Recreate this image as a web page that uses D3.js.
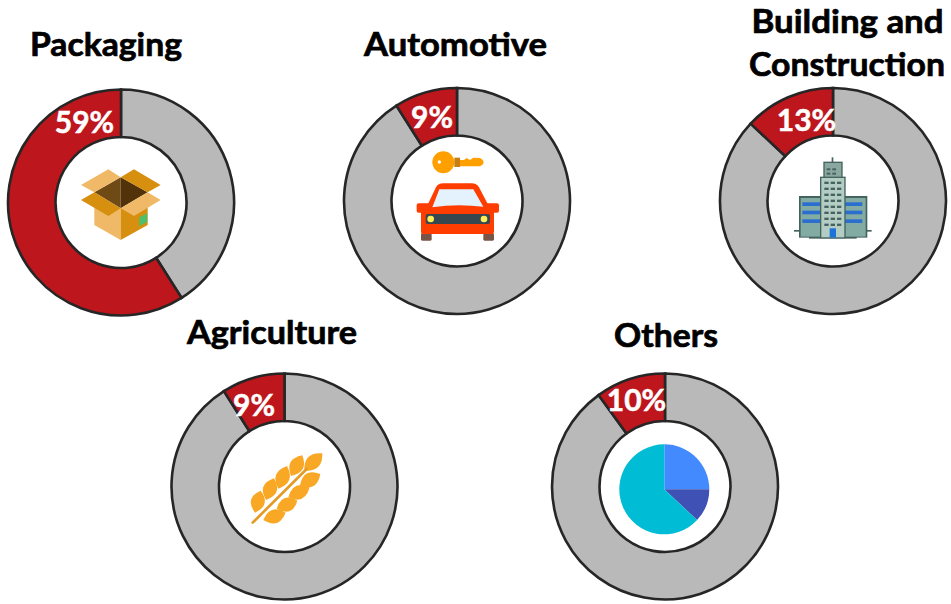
<!DOCTYPE html>
<html>
<head>
<meta charset="utf-8">
<script src="https://cdn.jsdelivr.net/npm/d3@7"></script>
<style>
  html, body { margin: 0; padding: 0; background: #fff; }
  text { font-family: Lato, "Open Sans", sans-serif; font-weight: 700; }
</style>
</head>
<body>
<div id="chart"></div>
<script>
// values
var sectors = ["Packaging", "Automotive", "Building and Construction", "Agriculture", "Others"];
var shares = [59, 9, 13, 9, 10];
var iconPieValues = [25, 12, 63];

// layout, one entry per sector
var centers = [[121, 202.5], [457, 201], [833, 201], [284.5, 486.5], [665, 486.5]];
var labelPos = [[84.5, 133], [432, 128], [806.5, 131], [254, 416], [636.5, 411]];
var titleLines = [
    [{t: "Packaging", x: 106, y: 56, w: 152}],
    [{t: "Automotive", x: 455.5, y: 56, w: 183}],
    [{t: "Building and", x: 847.5, y: 33, w: 192}, {t: "Construction", x: 847, y: 76, w: 196}],
    [{t: "Agriculture", x: 272, y: 344, w: 170}],
    [{t: "Others", x: 666, y: 347, w: 104}]
];

var width = 951, height = 604,
    outerR = 113, innerR = 65.5,
    grey = "#b9b9b9", red = "#be161d", edge = "#262626";

var svg = d3.select("#chart")
    .append("svg")
        .attr("width", width)
        .attr("height", height)
        .style("display", "block");

var pie = d3.pie().sort(null).value(function(d) { return d; });
var arc = d3.arc().innerRadius(innerR).outerRadius(outerR);

sectors.forEach(function(name, i) {
    var g = svg.append("g")
        .attr("transform", "translate(" + centers[i][0] + "," + centers[i][1] + ")");

    // grey rest first, red share ends at twelve o'clock
    g.selectAll("path")
        .data(pie([100 - shares[i], shares[i]]))
        .enter()
        .append("path")
            .attr("d", arc)
            .attr("fill", function(d, j) { return j == 0 ? grey : red; })
            .attr("stroke", edge)
            .attr("stroke-width", 2.6);

    svg.append("text")
        .attr("x", labelPos[i][0])
        .attr("y", labelPos[i][1])
        .attr("text-anchor", "middle")
        .attr("fill", "#fff")
        .attr("stroke", "#fff")
        .attr("stroke-width", 0.5)
        .attr("font-size", 30)
        .text(shares[i] + "%");

    titleLines[i].forEach(function(l) {
        svg.append("text")
            .attr("x", l.x)
            .attr("y", l.y)
            .attr("text-anchor", "middle")
            .attr("fill", "#000")
            .attr("stroke", "#000")
            .attr("stroke-width", 0.7)
            .attr("font-size", 33)
            .attr("textLength", l.w)
            .attr("lengthAdjust", "spacingAndGlyphs")
            .text(l.t);
    });
});

// icons are drawn at 3x inside their own group
function iconGroup(x, y) {
    return svg.append("g").attr("transform", "translate(" + x + "," + y + ") scale(0.3333)");
}
function poly(g, pts, fill) {
    g.append("polygon").attr("points", pts).attr("fill", fill);
}
function box(g, x, y, w, h, fill, r) {
    return g.append("rect").attr("x", x).attr("y", y).attr("width", w).attr("height", h)
        .attr("rx", r || 0).attr("fill", fill);
}

// box
var ib = iconGroup(0, 20);
poly(ib, "283,540 362,565 362,660 283,615", "#f0b968");
poly(ib, "443,540 362,565 362,660 443,615", "#d68f0e");
poly(ib, "418,592 442,580 442,606 418,618", "#4fc06a");
poly(ib, "283,517 362,472 362,565", "#6f4a14");
poly(ib, "443,517 362,472 362,565", "#523208");
poly(ib, "243,495 325,448 362,472 283,517", "#f0b968");
poly(ib, "362,472 402,448 482,495 443,517", "#d68f0e");
poly(ib, "283,517 362,565 325,588 243,540", "#d68f0e");
poly(ib, "443,517 482,540 402,588 362,565", "#f0b968");

// key and car
var ic = iconGroup(340, 80);
ic.append("circle").attr("cx", 310).attr("cy", 247).attr("r", 33).attr("fill", "#ffa000");
ic.append("circle").attr("cx", 298).attr("cy", 246).attr("r", 5).attr("fill", "#fff");
ic.append("path").attr("d", "M345,240H372L380,234L390,240L400,233L420,234Q431,240 431,247Q431,254 420,259H345Z").attr("fill", "#ffa000");
box(ic, 343, 233, 17, 28, "#c77f10");
box(ic, 243, 460, 32, 22, "#795548", 4);
box(ic, 430, 460, 32, 22, "#795548", 4);
ic.append("path").attr("d", "M258,385L288,322Q294,310 310,310H395Q410,310 417,322L450,385Z").attr("fill", "#ff3d00");
box(ic, 230, 370, 247, 28, "#ff3d00", 6);
box(ic, 243, 380, 219, 82, "#ff3d00", 6);
ic.append("path").attr("d", "M277,382L298,328H400L430,380Q350,370 277,382Z").attr("fill", "#e3f2fd");
box(ic, 257, 402, 193, 30, "#37474f", 6);
ic.append("circle").attr("cx", 272).attr("cy", 417).attr("r", 10).attr("fill", "#ffee58");
ic.append("circle").attr("cx", 432).attr("cy", 417).attr("r", 10).attr("fill", "#ffee58");

// building
var ig = iconGroup(715, 0);
box(ig, 237, 690, 233, 5, "#45625d");
box(ig, 282, 711, 143, 5, "#45625d");
box(ig, 350, 472, 5, 14, "#45625d");
box(ig, 252, 588, 205, 125, "#45625d");
box(ig, 257, 594, 195, 116, "#82aca3");
[607, 632, 658].forEach(function(y) {
    box(ig, 262, y, 180, 11, "#2a6fd0");
});
box(ig, 325, 485, 58, 50, "#45625d");
box(ig, 329, 489, 50, 46, "#8aa8a0");
box(ig, 315, 530, 77, 185, "#45625d");
box(ig, 319, 534, 69, 178, "#b3cdc4");
d3.range(545, 680, 18).forEach(function(y) {
    [328, 347, 366].forEach(function(x) {
        box(ig, x, y, 13, 7, "#45625d");
    });
});
[335, 352].forEach(function(x) {
    box(ig, x, 505, 11, 6, "#45625d");
    box(ig, x, 518, 11, 6, "#45625d");
});
box(ig, 344, 685, 19, 28, "#1e73d8");

// wheat
var iw = iconGroup(165, 370);
function leaf(a, b, c, d, w) {
    var mx = (a + c) / 2, my = (b + d) / 2,
        nx = -(d - b), ny = c - a,
        k = w / Math.sqrt(nx * nx + ny * ny);
    return "M" + a + "," + b +
        "Q" + (mx + nx * k) + "," + (my + ny * k) + " " + c + "," + d +
        "Q" + (mx - nx * k) + "," + (my - ny * k) + " " + a + "," + b + "Z";
}
[[378, 318, 412, 256], [340, 356, 366, 288], [303, 390, 327, 325], [270, 428, 287, 362],
 [418, 302, 472, 250], [405, 347, 466, 312], [370, 382, 434, 352], [335, 416, 397, 392], [295, 450, 362, 428]]
    .forEach(function(p) {
        iw.append("path").attr("d", leaf(p[0], p[1], p[2], p[3], 42)).attr("fill", "#f9a825");
    });
iw.append("line").attr("x1", 263).attr("y1", 458).attr("x2", 425).attr("y2", 297)
    .attr("stroke", "#e59a25").attr("stroke-width", 8).attr("stroke-linecap", "round");

// small pie inside "Others"
var iconColors = ["#448aff", "#3f51b5", "#00bcd4"];
svg.append("g")
    .attr("transform", "translate(664.3,489.3)")
    .selectAll("path")
    .data(pie(iconPieValues))
    .enter()
    .append("path")
        .attr("d", d3.arc().innerRadius(0).outerRadius(45))
        .attr("fill", function(d, j) { return iconColors[j]; });
</script>
</body>
</html>
